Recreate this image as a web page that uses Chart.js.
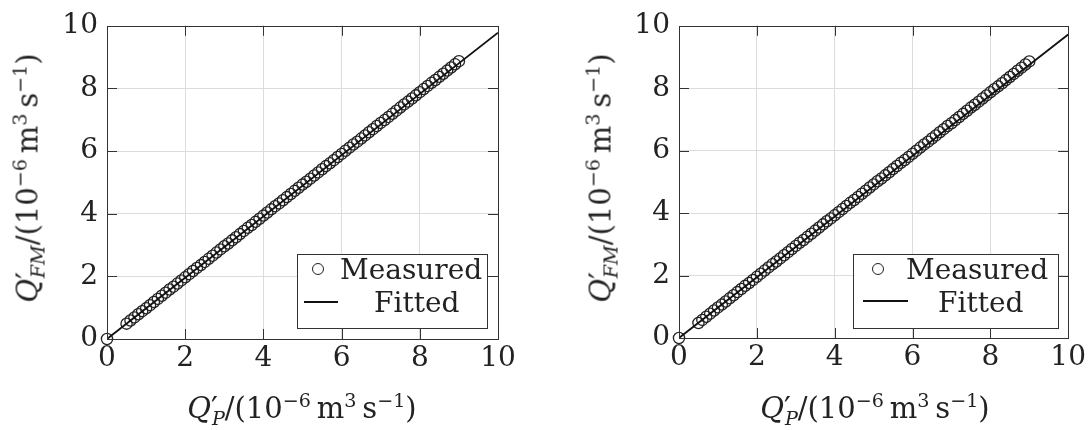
<!DOCTYPE html>
<html>
<head>
<meta charset="utf-8">
<script src="https://cdn.jsdelivr.net/npm/chart.js@4"></script>
<style>
  body { margin: 0; background: #fff; }
  #wrap { position: relative; width: 1089px; height: 430px; overflow: hidden; }
  canvas { position: absolute; top: 0; }
  .math { position: absolute; font-family: 'DejaVu Serif', serif; font-size: 29px; color: #222; white-space: nowrap; line-height: 1; }
  .math sup, .math sub { font-size: 0.66em; line-height: 0; }
  .math .pr { font-size: 1.05em; line-height: 0; }
  .math .sb { margin-left: -0.32em; }
  .xt { top: 394px; transform: translateX(-50%); }
  .yt { top: 178px; transform: translate(-50%, -50%) rotate(-90deg); }
  .legend { position: absolute; top: 254px; height: 73px; border: 1px solid #333; background: #fff;
            font-family: 'DejaVu Serif', serif; font-size: 28px; color: #222; }
  .legend .row { position: absolute; white-space: nowrap; line-height: 1; }
  .legend .dot { position: absolute; width: 10px; height: 10px; border: 1.2px solid #222; border-radius: 50%; }
  .legend .ln { position: absolute; height: 2px; background: #111; }
</style>
</head>
<body>
<div id="wrap">
  <canvas id="left" width="544" height="430" style="left:0"></canvas>
  <canvas id="right" width="545" height="430" style="left:544px"></canvas>

  <div class="math xt" style="left:302px"><i>Q</i><span class="pr">′</span><sub class="sb"><i>P</i></sub>/(10<sup>−6</sup>&#8201;m<sup>3</sup>&#8201;s<sup>−1</sup>)</div>
  <div class="math xt" style="left:875px"><i>Q</i><span class="pr">′</span><sub class="sb"><i>P</i></sub>/(10<sup>−6</sup>&#8201;m<sup>3</sup>&#8201;s<sup>−1</sup>)</div>
  <div class="math yt" style="left:28px"><i>Q</i><span class="pr">′</span><sub class="sb"><i>FM</i></sub>/(10<sup>−6</sup>&#8201;m<sup>3</sup>&#8201;s<sup>−1</sup>)</div>
  <div class="math yt" style="left:601px"><i>Q</i><span class="pr">′</span><sub class="sb"><i>FM</i></sub>/(10<sup>−6</sup>&#8201;m<sup>3</sup>&#8201;s<sup>−1</sup>)</div>

  <div class="legend" style="left:297px;width:189px">
    <span class="dot" style="left:14px;top:8px"></span>
    <span class="row" style="left:42px;top:1px">Measured</span>
    <span class="ln" style="left:6px;width:34px;top:46px"></span>
    <span class="row" style="left:76px;top:34px">Fitted</span>
  </div>
  <div class="legend" style="left:853px;width:204px">
    <span class="dot" style="left:18px;top:8px"></span>
    <span class="row" style="left:52px;top:1px">Measured</span>
    <span class="ln" style="left:9px;width:45px;top:45px"></span>
    <span class="row" style="left:84px;top:34px">Fitted</span>
  </div>
</div>

<script>
// оси
const tickValues = [0, 2, 4, 6, 8, 10];

// виміряні точки (x спільний для обох графіків)
const measuredX = [0,
  0.5, 0.6, 0.7, 0.8, 0.9, 1.0, 1.1, 1.2, 1.3, 1.4, 1.5, 1.6, 1.7, 1.8, 1.9,
  2.0, 2.1, 2.2, 2.3, 2.4, 2.5, 2.6, 2.7, 2.8, 2.9, 3.0, 3.1, 3.2, 3.3, 3.4,
  3.5, 3.6, 3.7, 3.8, 3.9, 4.0, 4.1, 4.2, 4.3, 4.4, 4.5, 4.6, 4.7, 4.8, 4.9,
  5.0, 5.1, 5.2, 5.3, 5.4, 5.5, 5.6, 5.7, 5.8, 5.9, 6.0, 6.1, 6.2, 6.3, 6.4,
  6.5, 6.6, 6.7, 6.8, 6.9, 7.0, 7.1, 7.2, 7.3, 7.4, 7.5, 7.6, 7.7, 7.8, 7.9,
  8.0, 8.1, 8.2, 8.3, 8.4, 8.5, 8.6, 8.7, 8.8, 8.9, 9.0];

const measuredYLeft = [0,
  0.49, 0.59, 0.69, 0.79, 0.89, 0.98, 1.08, 1.18, 1.28, 1.38, 1.48, 1.58, 1.67, 1.77, 1.87,
  1.97, 2.07, 2.17, 2.27, 2.36, 2.46, 2.56, 2.66, 2.76, 2.86, 2.96, 3.05, 3.15, 3.25, 3.35,
  3.45, 3.55, 3.64, 3.74, 3.84, 3.94, 4.04, 4.14, 4.24, 4.33, 4.43, 4.53, 4.63, 4.73, 4.83,
  4.93, 5.02, 5.12, 5.22, 5.32, 5.42, 5.52, 5.61, 5.71, 5.81, 5.91, 6.01, 6.11, 6.21, 6.30,
  6.40, 6.50, 6.60, 6.70, 6.80, 6.90, 6.99, 7.09, 7.19, 7.29, 7.39, 7.49, 7.58, 7.68, 7.78,
  7.88, 7.98, 8.08, 8.18, 8.27, 8.37, 8.47, 8.57, 8.67, 8.77, 8.87];

const measuredYRight = [0,
  0.48, 0.58, 0.68, 0.78, 0.88, 0.98, 1.07, 1.17, 1.27, 1.37, 1.47, 1.57, 1.67, 1.76, 1.86,
  1.96, 2.06, 2.16, 2.26, 2.36, 2.45, 2.55, 2.65, 2.75, 2.85, 2.95, 3.05, 3.14, 3.24, 3.34,
  3.44, 3.54, 3.64, 3.74, 3.83, 3.93, 4.03, 4.13, 4.23, 4.33, 4.42, 4.52, 4.62, 4.72, 4.82,
  4.92, 5.02, 5.11, 5.21, 5.31, 5.41, 5.51, 5.61, 5.70, 5.80, 5.90, 6.00, 6.10, 6.20, 6.29,
  6.39, 6.49, 6.59, 6.69, 6.79, 6.88, 6.98, 7.08, 7.18, 7.28, 7.38, 7.47, 7.57, 7.67, 7.77,
  7.87, 7.97, 8.06, 8.16, 8.26, 8.36, 8.46, 8.56, 8.66, 8.76, 8.86];

// апроксимація
const fittedX = [0, 10];
const fittedYLeft = [0, 9.78];
const fittedYRight = [0, 9.72];

const FONT = { family: "'DejaVu Serif', serif", size: 28 };

function toPoints(xs, ys) {
  return xs.map((x, i) => ({ x: x, y: ys[i] }));
}

// рамка + внутрішні засічки
const framePlugin = {
  id: 'frame',
  afterDraw(chart) {
    const { ctx, chartArea: a, scales } = chart;
    ctx.save();
    ctx.strokeStyle = '#333';
    ctx.lineWidth = 1;
    ctx.beginPath();
    tickValues.slice(1, -1).forEach(v => {
      const px = Math.round(scales.x.getPixelForValue(v)) + 0.5;
      const py = Math.round(scales.y.getPixelForValue(v)) + 0.5;
      ctx.moveTo(px, a.bottom); ctx.lineTo(px, a.bottom - 10);
      ctx.moveTo(px, a.top); ctx.lineTo(px, a.top + 10);
      ctx.moveTo(a.left, py); ctx.lineTo(a.left + 10, py);
      ctx.moveTo(a.right, py); ctx.lineTo(a.right - 10, py);
    });
    ctx.stroke();
    ctx.strokeRect(Math.round(a.left) + 0.5, Math.round(a.top) + 0.5,
      Math.round(a.right - a.left), Math.round(a.bottom - a.top));
    ctx.restore();
  }
};

function gridColor(c) {
  return (c.tick && (c.tick.value === 0 || c.tick.value === 10)) ? 'rgba(0,0,0,0)' : '#dcdcdc';
}

function makeChart(id, ys, fitYs, pad, xHeight) {
  return new Chart(document.getElementById(id), {
    type: 'scatter',
    data: {
      datasets: [{
        label: 'Fitted',
        data: toPoints(fittedX, fitYs),
        showLine: true,
        borderColor: '#111',
        borderWidth: 1.8,
        pointRadius: 0
      }, {
        label: 'Measured',
        data: toPoints(measuredX, ys),
        pointStyle: 'circle',
        pointRadius: 5.6,
        borderColor: '#222',
        borderWidth: 1.3,
        backgroundColor: 'rgba(0,0,0,0)',
        clip: false
      }]
    },
    options: {
      responsive: false,
      animation: false,
      layout: { padding: pad },
      plugins: { legend: { display: false }, tooltip: { enabled: false } },
      scales: {
        x: {
          min: 0, max: 10,
          afterBuildTicks: s => { s.ticks = tickValues.map(v => ({ value: v })); },
          afterFit: s => { s.height = xHeight; },
          ticks: { font: FONT, color: '#222', padding: 3, maxRotation: 0 },
          grid: { color: gridColor, drawTicks: false },
          border: { display: false }
        },
        y: {
          min: 0, max: 10,
          afterBuildTicks: s => { s.ticks = tickValues.map(v => ({ value: v })); },
          afterFit: s => { s.width = pad.yWidth; },
          ticks: { font: FONT, color: '#222', padding: 9 },
          grid: { color: gridColor, drawTicks: false },
          border: { display: false }
        }
      }
    },
    plugins: [framePlugin]
  });
}

makeChart('left', measuredYLeft, fittedYLeft, { top: 18, right: 46, left: 0, bottom: 0, yWidth: 107 }, 91);
makeChart('right', measuredYRight, fittedYRight, { top: 18, right: 19, left: 0, bottom: 0, yWidth: 135 }, 92);
</script>
</body>
</html>
